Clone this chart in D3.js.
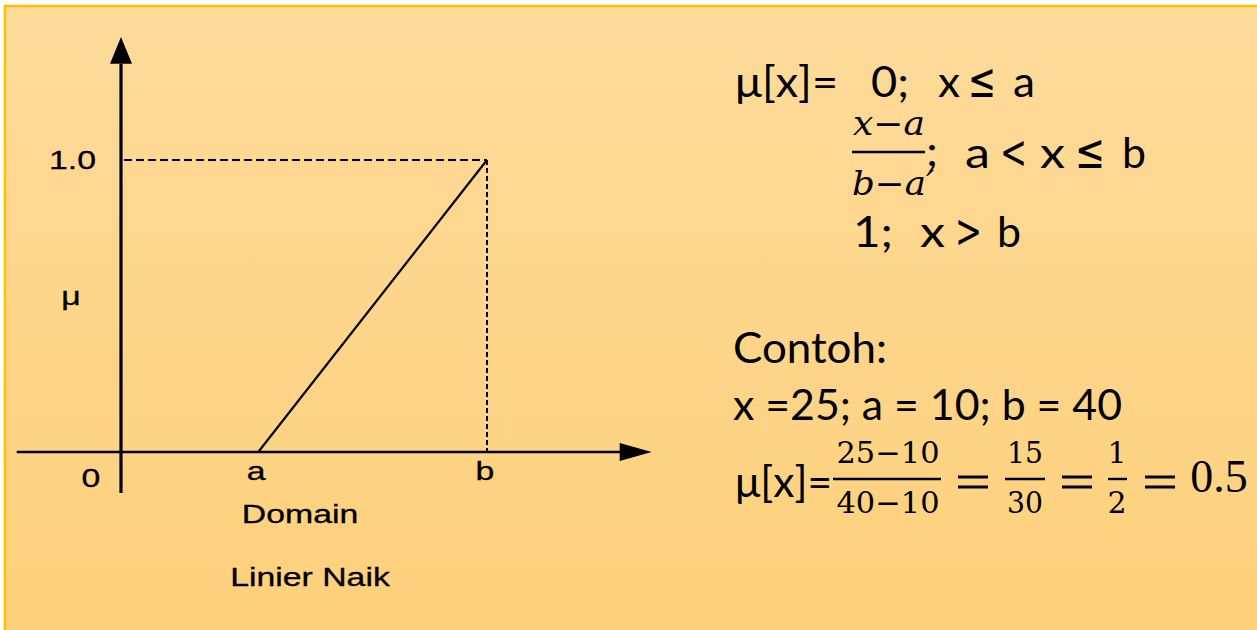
<!DOCTYPE html>
<html>
<head>
<meta charset="utf-8">
<script src="https://cdn.jsdelivr.net/npm/d3@7"></script>
<style>
  body { margin: 0; background: #fff; }
  svg { display: block; }
</style>
</head>
<body>
<script>
// schematic positions on the domain axis (not to scale with the example)
var xTicks = [
    {label: "0", value: 0},
    {label: "a", value: 15},
    {label: "b", value: 40}
];
var yTicks = [
    {label: "1.0", value: 1}
];
// membership curve: 0 at a, rising linearly to 1 at b
var memberX = [15, 40];
var memberY = [0, 1];

// worked example values
var exX = 25, exA = 10, exB = 40;

var width = 1257, height = 630;

var svg = d3.select("body")
    .append("svg")
    .attr("width", width)
    .attr("height", height);

var grad = svg.append("defs").append("linearGradient")
    .attr("id", "bg")
    .attr("x1", 0).attr("y1", 0).attr("x2", 0).attr("y2", 1);
grad.append("stop").attr("offset", "0%").attr("stop-color", "#fedb9b");
grad.append("stop").attr("offset", "100%").attr("stop-color", "#fdd07b");

// background panel with orange frame on top and left
svg.append("rect")
    .attr("x", 5).attr("y", 6)
    .attr("width", width - 5).attr("height", height - 6)
    .attr("fill", "url(#bg)");
svg.append("path")
    .attr("d", "M5," + height + "V6H" + width)
    .attr("fill", "none")
    .attr("stroke", "#ffc000")
    .attr("stroke-width", 2.5);

// ---- left diagram ----
var x = d3.scaleLinear().domain([0, 40]).range([121, 487]);
var y = d3.scaleLinear().domain([0, 1]).range([452, 160]);

var g = svg.append("g");

// y axis
g.append("line")
    .attr("x1", x(0)).attr("x2", x(0))
    .attr("y1", y(-0.14)).attr("y2", y(1.33))
    .attr("stroke", "#000").attr("stroke-width", 3.2);
g.append("path")
    .attr("d", "M" + x(0) + "," + y(1.421) +
        "L" + (x(0) - 11) + "," + y(1.33) +
        "L" + (x(0) + 11) + "," + y(1.33) + "Z")
    .attr("fill", "#000");

// x axis
g.append("line")
    .attr("x1", x(-11.4)).attr("x2", x(55))
    .attr("y1", y(0)).attr("y2", y(0))
    .attr("stroke", "#000").attr("stroke-width", 2.5);
g.append("path")
    .attr("d", "M" + x(58) + "," + y(0) +
        "L" + x(54.5) + "," + (y(0) - 9) +
        "L" + x(54.5) + "," + (y(0) + 9) + "Z")
    .attr("fill", "#000");

// dashed guides to (b, 1)
g.append("line")
    .attr("x1", x(0) + 3).attr("x2", x(memberX[1]))
    .attr("y1", y(1)).attr("y2", y(1))
    .attr("stroke", "#000").attr("stroke-width", 2)
    .attr("stroke-dasharray", "8,4");
g.append("line")
    .attr("x1", x(memberX[1])).attr("x2", x(memberX[1]))
    .attr("y1", y(1)).attr("y2", y(0))
    .attr("stroke", "#000").attr("stroke-width", 2)
    .attr("stroke-dasharray", "5,3");

// membership line
var line = d3.line()
    .x(function(d, i) { return x(memberX[i]); })
    .y(function(d, i) { return y(memberY[i]); });
g.append("path")
    .datum(memberX)
    .attr("d", line)
    .attr("fill", "none")
    .attr("stroke", "#000")
    .attr("stroke-width", 2.2);

// left labels (wide Arial look)
function wideText(txt, px, py, anchor) {
    return g.append("text")
        .attr("transform", "translate(" + px + "," + py + ") scale(1.3,1)")
        .attr("text-anchor", anchor || "middle")
        .attr("font-family", "Liberation Sans, Arial, sans-serif")
        .attr("font-size", 26)
        .attr("stroke", "#000").attr("stroke-width", 0.3)
        .attr("fill", "#000")
        .text(txt);
}

xTicks.forEach(function(t) {
    if (t.value === 0) {
        wideText(t.label, x(0) - 30, 487, "middle");
    } else {
        wideText(t.label, x(t.value) - 2, 480, "middle");
    }
});
yTicks.forEach(function(t) {
    wideText(t.label, 96, y(t.value) + 9, "end");
});
wideText("\u03bc", 71, 305, "middle");
wideText("Domain", 300, 523, "middle");
wideText("Linier Naik", 310, 586, "middle");

// ---- right formulas ----
var sans = "Lato, 'Open Sans', sans-serif";
var rel = "'DejaVu Sans', sans-serif";
var serif = "'DejaVu Serif', serif";
var r = svg.append("g").attr("fill", "#000");

// sans text piece, fitted to a measured width
function sText(txt, px, py, len, fam, size) {
    var t = r.append("text")
        .attr("x", px).attr("y", py)
        .attr("font-family", fam || sans)
        .attr("font-size", size || 42)
        .text(txt);
    if (len) t.attr("textLength", len).attr("lengthAdjust", "spacingAndGlyphs");
    return t;
}
// centred serif math piece
function mText(txt, cx, py, size, len, italic) {
    var t = r.append("text")
        .attr("x", cx).attr("y", py)
        .attr("text-anchor", "middle")
        .attr("font-family", serif)
        .attr("font-style", italic ? "italic" : "normal")
        .attr("font-size", size)
        .text(txt);
    if (len) t.attr("textLength", len).attr("lengthAdjust", "spacingAndGlyphs");
    return t;
}
function bar(x1, x2, py) {
    r.append("line")
        .attr("x1", x1).attr("x2", x2)
        .attr("y1", py).attr("y2", py)
        .attr("stroke", "#000").attr("stroke-width", 2.4);
}
// heavy equals sign like the equation editor's
function eq(x1, x2, cy) {
    [cy - 5, cy + 5].forEach(function(yy) {
        r.append("line")
            .attr("x1", x1).attr("x2", x2)
            .attr("y1", yy).attr("y2", yy)
            .attr("stroke", "#000").attr("stroke-width", 3);
    });
}

// line 1
sText("\u03bc[x]=", 735, 97, 103);
sText("0;", 871, 97, 38);
sText("x", 938, 97, 22);
sText("\u2264", 968, 97, 28, rel, 48);
sText("a", 1013, 97, 22);

// line 2
mText("x\u2212a", 889, 135, 33, 72, true);
bar(852, 925, 152);
mText("b\u2212a\u2032", 893, 195, 33, 82, true);
sText(";", 926, 166, 12);
sText("a", 965, 168, 25);
sText("<", 1000, 168, 27, rel, 46);
sText("x", 1040, 168, 25);
sText("\u2264", 1075, 168, 30, rel, 48);
sText("b", 1122, 168, 24);

// line 3
sText("1;", 853, 247, 40);
sText("x", 920, 247, 25);
sText(">", 955, 247, 27, rel, 46);
sText("b", 997, 247, 24);

// example
sText("Contoh:", 733, 363, 154);
sText("x =" + exX + "; a = " + exA + "; b = " + exB, 733, 420, 389);
sText("\u03bc[x]=", 735, 497, 97);

var num = exX - exA, den = exB - exA;
mText(exX + "\u2212" + exA, 888, 463, 30, 103);
bar(833, 941, 479);
mText(exB + "\u2212" + exA, 888, 513, 30, 103);
eq(958, 988, 482);
mText(String(num), 1025, 463, 30, 36);
bar(1005, 1045, 479);
mText(String(den), 1025, 513, 30, 36);
eq(1062, 1092, 482);
mText("1", 1117, 463, 30);
bar(1108, 1127, 479);
mText("2", 1117, 513, 30);
eq(1145, 1175, 482);
r.append("text")
    .attr("x", 1219).attr("y", 492)
    .attr("text-anchor", "middle")
    .attr("font-family", "'Liberation Serif', serif")
    .attr("font-size", 46)
    .text(String(num / den));
</script>
</body>
</html>
